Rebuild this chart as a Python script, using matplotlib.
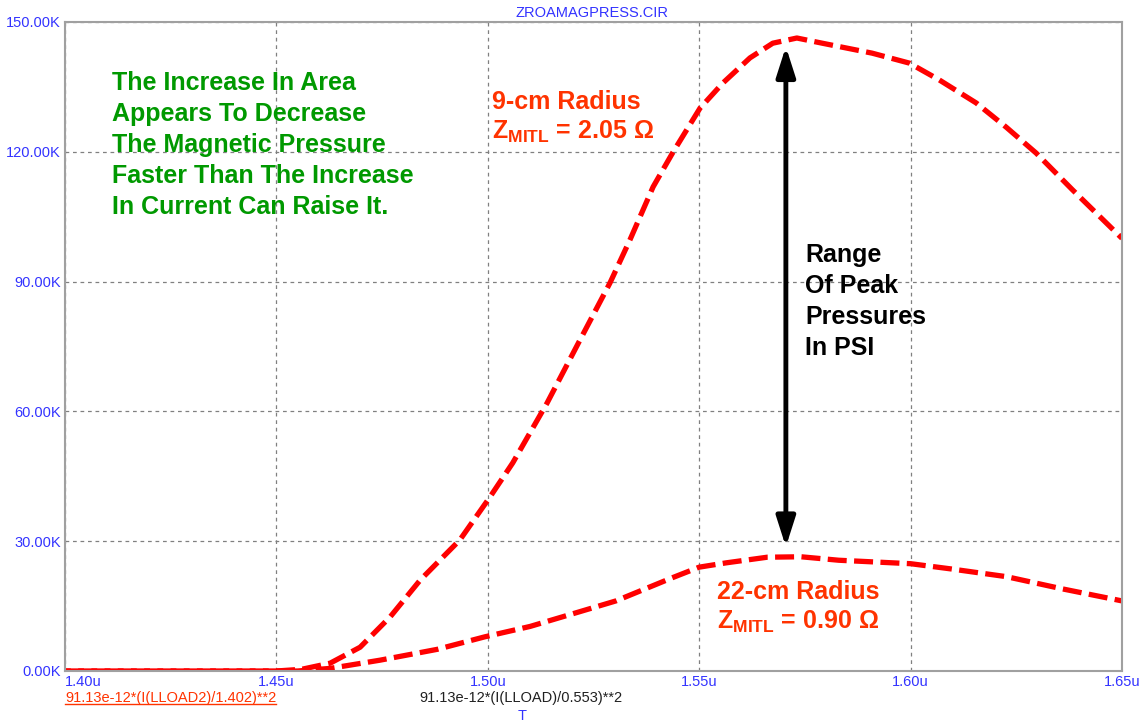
import matplotlib
matplotlib.use('Agg')
import matplotlib.pyplot as plt
from matplotlib.lines import Line2D

plt.rcParams['font.family'] = ['Liberation Sans', 'DejaVu Sans']
plt.rcParams['mathtext.fontset'] = 'custom'
plt.rcParams['mathtext.rm'] = 'Liberation Sans'
plt.rcParams['mathtext.bf'] = 'Liberation Sans:bold'

# Magnetic pressure traces (time in microseconds, pressure in thousands of PSI)
t_9cm = [1.400, 1.450, 1.456, 1.4627, 1.4698, 1.4769, 1.4840, 1.4934, 1.5005,
         1.5059, 1.5140, 1.5218, 1.5289, 1.5336, 1.5391, 1.5438, 1.5502, 1.5556,
         1.5620, 1.5674, 1.5731, 1.5791, 1.5909, 1.5997, 1.6068, 1.6155, 1.6226,
         1.6297, 1.6383, 1.6500]
p_9cm = [0.0, 0.0, 0.4, 1.8, 5.5, 12.5, 21.0, 30.3, 40.2,
         48.1, 61.9, 76.5, 89.7, 99.6, 111.9, 119.9, 130.1, 135.9,
         141.7, 145.1, 146.3, 145.1, 142.8, 140.5, 136.6, 131.3, 125.7,
         119.7, 111.2, 100.0]

t_22cm = [1.400, 1.455, 1.4627, 1.4745, 1.4880, 1.4993, 1.5100, 1.5200, 1.5303,
          1.5435, 1.5500, 1.5564, 1.5661, 1.5741, 1.5830, 1.6000, 1.6095, 1.6227,
          1.6358, 1.6500]
p_22cm = [0.0, 0.0, 0.6, 2.5, 5.0, 7.9, 10.3, 13.2, 16.2,
          21.5, 24.0, 25.0, 26.3, 26.4, 25.6, 24.8, 23.6, 21.8,
          19.0, 16.2]

x_ticks = [1.40, 1.45, 1.50, 1.55, 1.60, 1.65]
x_labels = ['1.40u', '1.45u', '1.50u', '1.55u', '1.60u', '1.65u']
y_ticks = [0, 30, 60, 90, 120, 150]
y_labels = ['0.00K', '30.00K', '60.00K', '90.00K', '120.00K', '150.00K']

note_lines = ['The Increase In Area', 'Appears To Decrease', 'The Magnetic Pressure',
              'Faster Than The Increase', 'In Current Can Raise It.']
range_lines = ['Range', 'Of Peak', 'Pressures', 'In PSI']
arrow_t = 1.5705
arrow_span = (28.7, 144.3)

BLUE = '#3333ff'
RED = '#ff0000'
LABEL_RED = '#ff3300'
GREEN = '#009900'

fig = plt.figure(figsize=(11.43, 7.23), dpi=100)
ax = fig.add_axes([65 / 1143, 52 / 723, 1057 / 1143, 649 / 723])

# second trace is dash-shifted by half a period so the shared zero run looks solid
ax.plot(t_9cm, p_9cm, color=RED, lw=3.8, linestyle=(0, (3.6, 1.4)),
        dash_capstyle='butt')
ax.plot(t_22cm, p_22cm, color=RED, lw=3.8, linestyle=(2.5, (3.6, 1.4)),
        dash_capstyle='butt')

ax.set_xlim(1.40, 1.65)
ax.set_ylim(0, 150)
ax.set_xticks(x_ticks)
ax.set_yticks(y_ticks)
ax.set_xticklabels(x_labels, color=BLUE, fontsize=10.5)
ax.set_yticklabels(y_labels, color=BLUE, fontsize=10.5)
ax.tick_params(length=0, pad=3)
ax.get_xticklabels()[0].set_horizontalalignment('left')
ax.grid(True, color='#808080', lw=0.9, linestyle=(0, (3, 3)))
for s in ax.spines.values():
    s.set_color('#a0a0a0')
    s.set_linewidth(1.5)

# pixel helpers for annotation placement
def px_t(px):
    return 1.40 + (px - 65) / 1057 * 0.25

def px_p(py):
    return (671 - py) / 649 * 150

for i, line in enumerate(note_lines):
    ax.text(px_t(112), px_p(90 + 31 * i), line, color=GREEN, fontsize=18,
            fontweight='bold', va='baseline', ha='left')

ax.text(px_t(492), px_p(109), '9-cm Radius', color=LABEL_RED, fontsize=18,
        fontweight='bold', va='baseline')
ax.text(px_t(492), px_p(139), r'$\mathbf{Z_{MITL}}$ = 2.05 Ω', color=LABEL_RED,
        fontsize=18, fontweight='bold', va='baseline')
ax.text(px_t(717), px_p(599), '22-cm Radius', color=LABEL_RED, fontsize=18,
        fontweight='bold', va='baseline')
ax.text(px_t(717), px_p(629), r'$\mathbf{Z_{MITL}}$ = 0.90 Ω', color=LABEL_RED,
        fontsize=18, fontweight='bold', va='baseline')

for i, line in enumerate(range_lines):
    ax.text(px_t(805), px_p(262 + 31 * i), line, color='black', fontsize=18,
            fontweight='bold', va='baseline', ha='left')

ax.annotate('', xy=(arrow_t, arrow_span[1]), xytext=(arrow_t, arrow_span[0]),
            arrowprops=dict(arrowstyle='<|-|>,head_length=1.0,head_width=0.32',
                            color='black', lw=3.5, shrinkA=0, shrinkB=0,
                            mutation_scale=18))

fig.text(592 / 1143, 1 - 13 / 723, 'ZROAMAGPRESS.CIR', color=BLUE, fontsize=10.5,
         ha='center', va='center')

leg1 = fig.text(65 / 1143, 1 - 698 / 723, '91.13e-12*(I(LLOAD2)/1.402)**2',
                color=LABEL_RED, fontsize=10.5, ha='left', va='center')
fig.text(521 / 1143, 1 - 698 / 723, '91.13e-12*(I(LLOAD)/0.553)**2',
         color='#202020', fontsize=10.5, ha='center', va='center')
fig.text(522 / 1143, 1 - 716 / 723, 'T', color=BLUE, fontsize=10.5,
         ha='center', va='center')

# underline the active trace expression
fig.canvas.draw()
bb = leg1.get_window_extent().transformed(fig.transFigure.inverted())
fig.add_artist(Line2D([bb.x0, bb.x1], [bb.y0 + 0.002, bb.y0 + 0.002],
                      color=LABEL_RED, lw=1, transform=fig.transFigure))

fig.savefig('out.png', dpi=100)
